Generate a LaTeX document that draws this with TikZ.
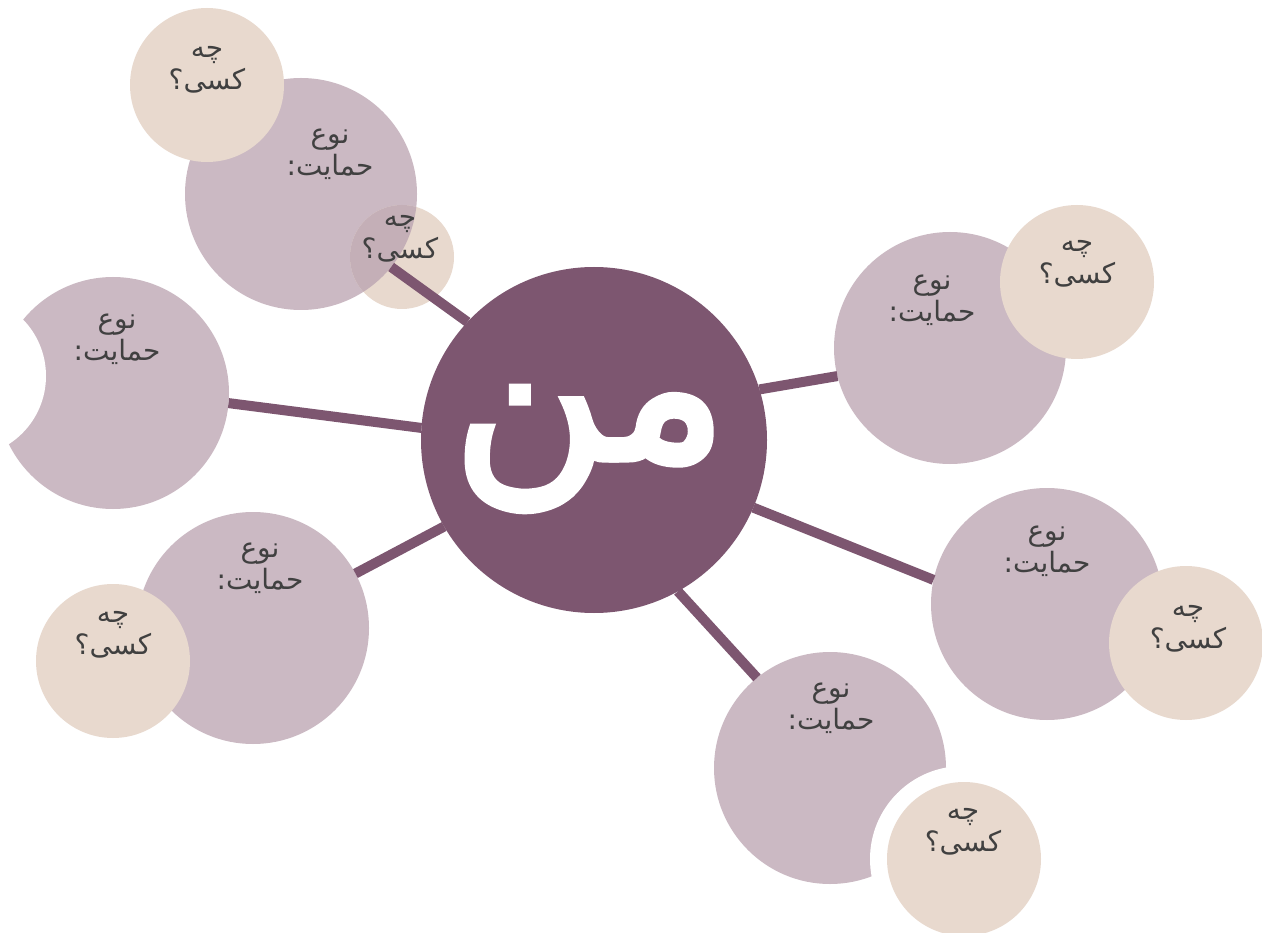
\documentclass[tikz,border=0pt]{standalone}
\usepackage{fontspec}
\setmainfont{DejaVu Sans}
\newfontfamily\arabicfont[Script=Arabic]{DejaVu Sans}
\newfontfamily\mefont[Script=Arabic, FakeBold=3]{DejaVu Sans}
\TeXXeTstate=1
\definecolor{dark}{HTML}{7D5670}
\definecolor{lilac}{HTML}{CBB9C3}
\definecolor{sand}{HTML}{E8D9CE}
\definecolor{mixed}{HTML}{C4AFB7}
\definecolor{txt}{HTML}{404040}
\tikzset{
  disc/.style={circle, inner sep=0pt, outer sep=0pt, minimum size=#1},
  bigdisc/.style={disc=232pt, fill=lilac},
  smalldisc/.style={disc=154pt, fill=sand},
  cutdisc/.style={disc=#1, fill=white},
  link/.style={line width=10pt, draw=dark},
  lab/.style={align=center, text=txt, inner sep=0pt, font=\arabicfont\fontsize{28}{32}\selectfont},
}
\newcommand{\typ}{\beginR نوع\endR\\\beginR حمایت\hbox{:}\endR}
\newcommand{\who}{\beginR چه\endR\\\beginR کسی\hbox{؟}\endR}
\begin{document}
\begin{tikzpicture}[x=1pt,y=-1pt]
\useasboundingbox[fill=white] (0,0) rectangle (1262,933);
% large lilac discs
\node[bigdisc] (p1) at (301,194) {};
\node[bigdisc] (p2) at (113,393) {};
\node[bigdisc] (p3) at (253,628) {};
\node[bigdisc] (p4) at (950,348) {};
\node[bigdisc] (p5) at (1047,604) {};
\node[bigdisc] (p6) at (830,768) {};
% white cut-outs
\node[cutdisc=162pt] (c2) at (-35,376) {};
\node[cutdisc=186pt] (c6) at (963,859) {};
% sand discs
\node[smalldisc] (b1) at (207,85) {};
\node[disc=104pt, fill=sand] (b1s) at (402,257) {};
\begin{scope}
  \clip (301,194) circle[radius=116];
  \fill[mixed] (402,257) circle[radius=52];
\end{scope}
\node[smalldisc] (b3) at (113,661) {};
\node[smalldisc] (b4) at (1077,282) {};
\node[smalldisc] (b5) at (1186,643) {};
\node[smalldisc] (b6) at (964,859) {};
% centre
\node[disc=346pt, fill=dark] (me) at (594,440) {};
% connectors
\draw[link] (me.137) -- (p1.-39);
\draw[link] (me.176) -- (p2.-5);
\draw[link] (me.210) -- (p3.28);
\draw[link] (me.17) -- (p4.194);
\draw[link] (me.-23) -- (p5.168);
\draw[link] (me.-61) -- (p6.129);
% texts
\node[text=white, inner sep=0pt, font=\mefont\fontsize{212}{212}\selectfont] (metxt) at (590,449) {\beginR من\endR};
\node[lab] (t1) at (330,154) {\typ};
\node[lab] (t2) at (117,339) {\typ};
\node[lab] (t3) at (260,568) {\typ};
\node[lab] (t4) at (932,300) {\typ};
\node[lab] (t5) at (1047,551) {\typ};
\node[lab] (t6) at (831,708) {\typ};
\node[lab] (w1) at (207,70) {\who};
\node[lab] (w1s) at (400,239) {\who};
\node[lab] (w3) at (113,635) {\who};
\node[lab] (w4) at (1077,264) {\who};
\node[lab] (w5) at (1188,629) {\who};
\node[lab] (w6) at (963,832) {\who};
\end{tikzpicture}
\end{document}
